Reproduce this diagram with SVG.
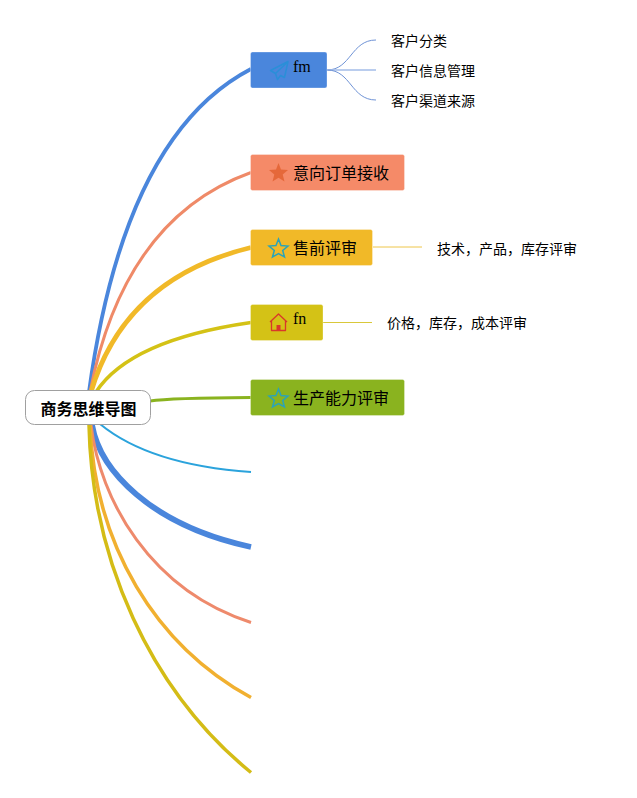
<svg xmlns="http://www.w3.org/2000/svg" width="637" height="798" viewBox="0 0 637 798">
<style>
text{font-family:"Liberation Sans","Noto Sans CJK SC",sans-serif;fill:#000}
.t{font-size:16px}
.s{font-size:14px}
.l{font-family:"Liberation Serif","Noto Sans CJK SC",serif;font-size:16px}
path{fill:none}
.n{stroke-width:1;stroke-opacity:.3;stroke:#fff}
</style>
<rect width="637" height="798" fill="#fff"/>
<g id="connectors">
<path d="M89 392Q124 135 251 69" stroke="#4a86dc" stroke-width="3.800"/>
<path d="M90 392Q124 218 251 172.500" stroke="#ef8a68" stroke-width="3"/>
<path d="M91 392Q125 278 251 247.500" stroke="#f1b928" stroke-width="4.800"/>
<path d="M96 392Q130 340 251 322.500" stroke="#d4c216" stroke-width="3.500"/>
<path d="M150 401Q170 398 251 397.500" stroke="#8ab31f" stroke-width="3"/>
<path d="M100 424Q150 465 251 472" stroke="#2ba3dc" stroke-width="2"/>
<path d="M92 425C100 470 150 525 251 547" stroke="#4a86dc" stroke-width="5.800"/>
<path d="M91 425C100 500 150 590 251 622.500" stroke="#ee8a6c" stroke-width="3"/>
<path d="M90 425C95 545 155 645 251 697.500" stroke="#f1b030" stroke-width="3.500"/>
<path d="M89 425C92 560 150 690 251 772.500" stroke="#d4bc16" stroke-width="3.500"/>
<path d="M327 70C351 70 351 40 376 40" stroke="#6f93d6" stroke-width="1"/>
<path d="M327 70H376" stroke="#a3bde8" stroke-width="1.500"/>
<path d="M327 70C351 70 351 100 376 100" stroke="#6f93d6" stroke-width="1"/>
<path d="M373 247H422" stroke="#eec64a" stroke-width="1"/>
<path d="M323 322.500H372" stroke="#d9c83a" stroke-width="1"/>
</g>
<g id="root"><rect x="25.500" y="390.500" width="125" height="34" rx="9" fill="#fff" stroke="#a0a0a0"/><text x="88.500" y="415" font-size="16" font-weight="700" text-anchor="middle">商务思维导图</text></g>
<g id="node-fm"><rect class="n" x="250.500" y="52" width="76.500" height="36" rx="2" fill="#4a86dc"/>
<path d="M288 61.500L270.500 70.500 275.500 73.500 277.500 79.500 280.500 75.500 284.500 77.500ZM288 61.500L275.500 73.500" stroke="#2a8fd8" stroke-width="1.500" stroke-linejoin="round"/>
<text class="l" x="293" y="72">fm</text></g>
<g id="node-intent"><rect class="n" x="250.500" y="154.500" width="154" height="36" rx="2" fill="#f58a68"/>
<polygon points="278.500,163 281,169.500 288,170 282.700,174.500 284.500,181.500 278.500,177.700 272.500,181.500 274.300,174.500 269,170 276,169.500" fill="#e5683a"/>
<text class="t" x="293" y="179">意向订单接收</text></g>
<g id="node-presale"><rect class="n" x="250.500" y="229.500" width="122" height="36" rx="2" fill="#f1b928"/>
<polygon points="278.500,239 281,245.500 288,246 282.700,250.500 284.500,257 278.500,253.500 272.500,257 274.300,250.500 269,246 276,245.500" fill="none" stroke="#2ba3b8" stroke-width="1.500"/>
<text class="t" x="293" y="254">售前评审</text></g>
<g id="node-fn"><rect class="n" x="250.500" y="304.500" width="72.500" height="36" rx="2" fill="#d4c216"/>
<path d="M270 322L278.500 314 287 322M271.500 321V330.500H285.500V321" stroke="#d9382a" stroke-width="1.300" stroke-linejoin="round"/>
<rect x="276.500" y="325" width="4" height="5.500" fill="#d9382a"/>
<text class="l" x="293" y="324">fn</text></g>
<g id="node-capacity"><rect class="n" x="250.500" y="379.500" width="154" height="36" rx="2" fill="#8ab31f"/>
<polygon points="278.500,389 281,395.500 288,396 282.700,400.500 284.500,407 278.500,403.500 272.500,407 274.300,400.500 269,396 276,395.500" fill="none" stroke="#2ba3b8" stroke-width="1.500"/>
<text class="t" x="293" y="404">生产能力评审</text></g>
<g id="leaf-1"><text class="s" x="391" y="46">客户分类</text></g>
<g id="leaf-2"><text class="s" x="391" y="76">客户信息管理</text></g>
<g id="leaf-3"><text class="s" x="391" y="106">客户渠道来源</text></g>
<g id="leaf-4"><text class="s" x="437" y="254">技术，产品，库存评审</text></g>
<g id="leaf-5"><text class="s" x="387" y="328">价格，库存，成本评审</text></g>
</svg>
